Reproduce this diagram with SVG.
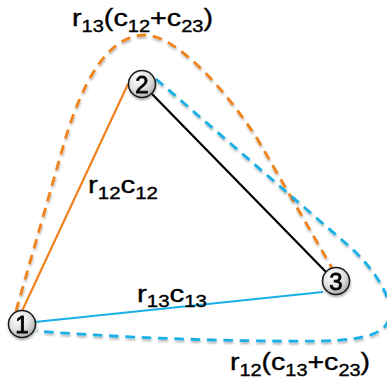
<svg xmlns="http://www.w3.org/2000/svg" width="387" height="383" viewBox="0 0 387 383">
  <style>
    .lbl { font-family: "Liberation Sans", Arial, sans-serif; font-size: 23px; fill: #000; stroke: #000; stroke-width: 0.35; }
    .sub { font-size: 16px; }
    .num { font-family: "Liberation Sans", Arial, sans-serif; font-size: 24px; fill: #000; stroke: #000; stroke-width: 0.8; text-anchor: middle; }
    .node circle { fill: url(#ng); stroke: #1a1a1a; stroke-width: 1.5; }
    .dash { fill: none; stroke-width: 2.8; stroke-dasharray: 9.5 6.8; }
    .solid { fill: none; stroke-width: 2.2; }
  </style>
  <defs>
    <radialGradient id="ng" cx="0.38" cy="0.3" r="0.75">
      <stop offset="0" stop-color="#ffffff"/>
      <stop offset="0.55" stop-color="#e2e2e2"/>
      <stop offset="1" stop-color="#a8a8a8"/>
    </radialGradient>
    <filter id="sh" x="-20%" y="-20%" width="140%" height="140%">
      <feDropShadow dx="0.5" dy="2" stdDeviation="1" flood-color="#000" flood-opacity="0.3"/>
    </filter>
  </defs>
  <rect width="387" height="383" fill="#fff"/>

  <g id="connectors">
    <path class="dash" stroke="#F0821E" filter="url(#sh)" d="M16,311 L65,140 C80,90 105,35 145,35 C175,35 225,88 258,140 L332,268"/>
    <path class="dash" stroke="#1AAFE6" filter="url(#sh)" d="M156,79 L350,247 C366,261 390,290 390,312 C390,332 370,340 320,341 C230,342 110,337 37,331"/>
    <line class="solid" stroke="#F0821E" x1="22" y1="311" x2="128" y2="84"/>
    <line class="solid" stroke="#000" x1="152" y1="94" x2="326" y2="272"/>
    <line class="solid" stroke="#1AAFE6" x1="35" y1="322" x2="323" y2="292"/>
  </g>

  <g id="node1" class="node" filter="url(#sh)">
    <circle cx="22" cy="324" r="13.5"/>
    <text class="num" x="22" y="332.5">1</text>
  </g>
  <g id="node2" class="node" filter="url(#sh)">
    <circle cx="142" cy="84" r="13.5"/>
    <text class="num" x="142" y="92.5">2</text>
  </g>
  <g id="node3" class="node" filter="url(#sh)">
    <circle cx="336" cy="281" r="13.5"/>
    <text class="num" x="336" y="289.5">3</text>
  </g>

  <g id="labels">
    <text class="lbl" x="72" y="26" textLength="141" lengthAdjust="spacingAndGlyphs">r<tspan class="sub" dy="6">13</tspan><tspan dy="-6">(c</tspan><tspan class="sub" dy="6">12</tspan><tspan dy="-6">+c</tspan><tspan class="sub" dy="6">23</tspan><tspan dy="-6">)</tspan></text>
    <text class="lbl" x="88" y="193" textLength="70" lengthAdjust="spacingAndGlyphs">r<tspan class="sub" dy="6">12</tspan><tspan dy="-6">c</tspan><tspan class="sub" dy="6">12</tspan></text>
    <text class="lbl" x="137" y="302" textLength="70" lengthAdjust="spacingAndGlyphs">r<tspan class="sub" dy="5">13</tspan><tspan dy="-5">c</tspan><tspan class="sub" dy="5">13</tspan></text>
    <text class="lbl" x="230" y="370" textLength="140" lengthAdjust="spacingAndGlyphs">r<tspan class="sub" dy="6">12</tspan><tspan dy="-6">(c</tspan><tspan class="sub" dy="6">13</tspan><tspan dy="-6">+c</tspan><tspan class="sub" dy="6">23</tspan><tspan dy="-6">)</tspan></text>
  </g>
</svg>
